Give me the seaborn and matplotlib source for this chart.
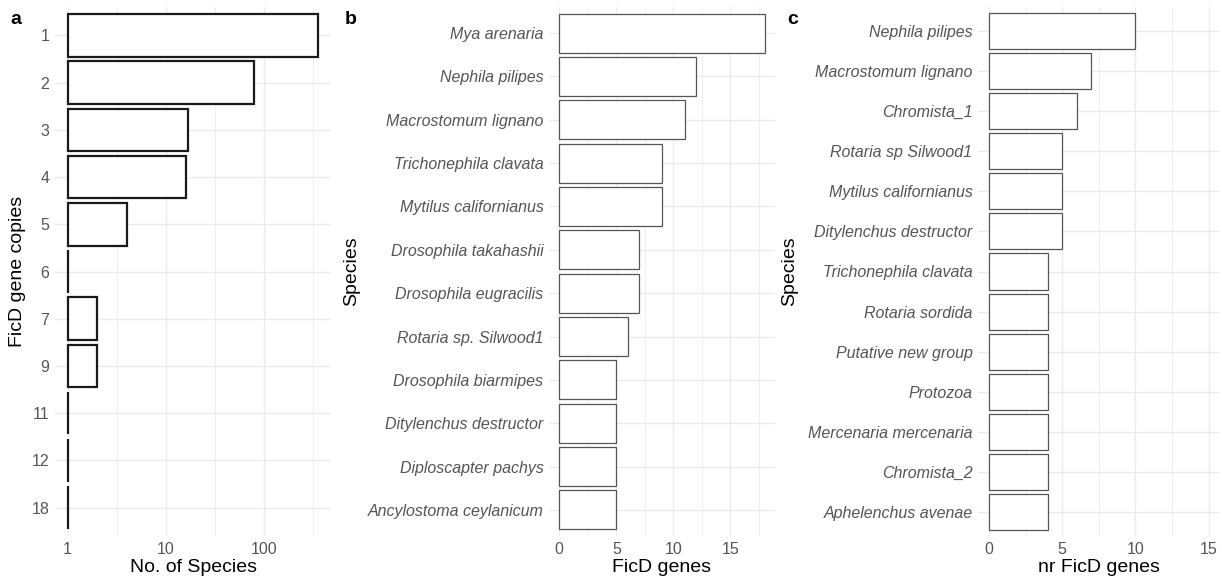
import numpy as np
import pandas as pd
import matplotlib
matplotlib.use("Agg")
import matplotlib.pyplot as plt
import seaborn as sns

# ---------------- data ----------------
copies = ["1", "2", "3", "4", "5", "6", "7", "9", "11", "12", "18"]
n_species = [360, 80, 17, 16, 4, 1, 2, 2, 1, 1, 1]

species_b = ["Mya arenaria", "Nephila pilipes", "Macrostomum lignano",
             "Trichonephila clavata", "Mytilus californianus",
             "Drosophila takahashii", "Drosophila eugracilis",
             "Rotaria sp. Silwood1", "Drosophila biarmipes",
             "Ditylenchus destructor", "Diploscapter pachys",
             "Ancylostoma ceylanicum"]
genes_b = [18, 12, 11, 9, 9, 7, 7, 6, 5, 5, 5, 5]

species_c = ["Nephila pilipes", "Macrostomum lignano", "Chromista_1",
             "Rotaria sp Silwood1", "Mytilus californianus",
             "Ditylenchus destructor", "Trichonephila clavata",
             "Rotaria sordida", "Putative new group", "Protozoa",
             "Mercenaria mercenaria", "Chromista_2", "Aphelenchus avenae"]
genes_c = [10, 7, 6, 5, 5, 5, 4, 4, 4, 4, 4, 4, 4]

# ---------------- style ----------------
sns.set_theme(style="whitegrid")
plt.rcParams["font.family"] = ["Liberation Sans", "DejaVu Sans"]

W, H = 1222, 579
fig = plt.figure(figsize=(W / 100, H / 100), dpi=100)
fig.patch.set_facecolor("white")

GRID = "#EBEBEB"
TICKC = "#555555"
TICKFS = 11.5
TITLEFS = 14


def px_axes(left, right, top, bottom):
    return fig.add_axes([left / W, 1 - bottom / H, (right - left) / W, (bottom - top) / H])


def style_ax(ax, n):
    ax.set_facecolor("white")
    for s in ax.spines.values():
        s.set_visible(False)
    ax.tick_params(axis="both", length=0, colors=TICKC, labelsize=TICKFS, pad=4)
    ax.tick_params(axis="x", which="minor", length=0)
    ax.grid(True, which="major", color=GRID, linewidth=1.0)
    ax.grid(True, which="minor", axis="x", color=GRID, linewidth=0.6)
    ax.grid(False, which="minor", axis="y")
    ax.set_axisbelow(True)
    ax.set_ylim(n - 1 + 0.6, -0.6)


def place_titles(ax, ylab_x_frac):
    ax.yaxis.set_label_coords(ylab_x_frac, 0.5)
    ax.xaxis.set_label_coords(0.5, -(567 - 536) / 529)
    ax.xaxis.label.set_va("center")
    ax.yaxis.label.set_va("center")


# ---------------- panel a ----------------
axa = px_axes(55, 331, 7, 536)
dfa = pd.DataFrame({"copies": copies, "n": n_species})
sns.barplot(data=dfa, y="copies", x="n", orient="h", ax=axa, width=0.9,
            color="white", edgecolor="#1a1a1a", linewidth=1.6, saturation=1)
axa.set_xscale("log")
for p, v in zip(axa.patches, n_species):
    p.set_x(1.0)
    p.set_width(v - 1.0)
lo, hi = 0.0, np.log10(max(n_species))
ex = 0.05 * (hi - lo)
axa.set_xlim(10 ** (lo - ex), 10 ** (hi + ex))
axa.set_xticks([1, 10, 100])
axa.set_xticklabels(["1", "10", "100"])
axa.set_xticks([10 ** 0.5, 10 ** 1.5, 10 ** 2.5], minor=True)
axa.xaxis.set_minor_formatter(matplotlib.ticker.NullFormatter())
style_ax(axa, len(copies))
axa.set_xlabel("No. of Species", fontsize=TITLEFS, color="black")
axa.set_ylabel("FicD gene copies", fontsize=TITLEFS, color="black")
place_titles(axa, (18 - 55) / 276)

# ---------------- panel b ----------------
axb = px_axes(549, 775, 7, 536)
dfb = pd.DataFrame({"species": species_b, "genes": genes_b})
sns.barplot(data=dfb, y="species", x="genes", orient="h", ax=axb, width=0.9,
            color="white", edgecolor="#555555", linewidth=0.9, saturation=1)
axb.set_xlim(-0.05 * 18, 18 * 1.05)
axb.set_xticks([0, 5, 10, 15])
axb.set_xticks([2.5, 7.5, 12.5, 17.5], minor=True)
style_ax(axb, len(species_b))
for t in axb.get_yticklabels():
    t.set_fontstyle("italic")
axb.set_xlabel("FicD genes", fontsize=TITLEFS, color="black")
axb.set_ylabel("Species", fontsize=TITLEFS, color="black")
place_titles(axb, (352 - 549) / 226)

# ---------------- panel c ----------------
axc = px_axes(978, 1219.5, 7, 536)
dfc = pd.DataFrame({"species": species_c, "genes": genes_c})
sns.barplot(data=dfc, y="species", x="genes", orient="h", ax=axc, width=0.9,
            color="white", edgecolor="#555555", linewidth=0.9, saturation=1)
axc.set_xlim(-0.75, 15.75)
axc.set_xticks([0, 5, 10, 15])
axc.set_xticks([2.5, 7.5, 12.5], minor=True)
style_ax(axc, len(species_c))
for t in axc.get_yticklabels():
    t.set_fontstyle("italic")
axc.set_xlabel("nr FicD genes", fontsize=TITLEFS, color="black")
axc.set_ylabel("Species", fontsize=TITLEFS, color="black")
place_titles(axc, (790 - 978) / 241.5)

# ---------------- panel letters ----------------
for x, lab in [(16, "a"), (351, "b"), (793, "c")]:
    fig.text(x / W, 1 - 20 / H, lab, fontsize=14, fontweight="bold",
             ha="center", va="center", color="black")

fig.savefig("out.png", dpi=100, facecolor="white")
